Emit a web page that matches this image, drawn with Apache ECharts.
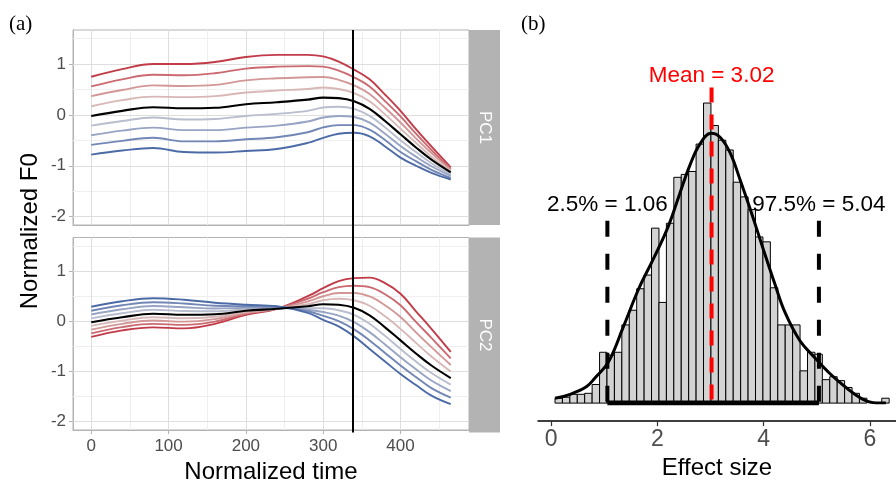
<!DOCTYPE html>
<html><head><meta charset="utf-8">
<script src="https://cdn.jsdelivr.net/npm/echarts@6/dist/echarts.min.js"></script>
<style>html,body{margin:0;padding:0;background:#fff}#c{width:896px;height:485px}</style>
</head><body><div id="c"></div>
<script>
// ---------- Panel (a): FPCA curves ----------
const timePoints = [0, 40, 80, 120, 160, 200, 240, 280, 300, 320, 340, 360, 380, 400, 420, 440, 465];
const meanCurve  = [-0.02, 0.08, 0.15, 0.13, 0.14, 0.21, 0.25, 0.30, 0.34, 0.33, 0.27, 0.12, -0.12, -0.38, -0.64, -0.88, -1.13];

const pc1Red4  = [0.75, 0.90, 1.00, 1.00, 1.04, 1.14, 1.18, 1.18, 1.15, 1.05, 0.89, 0.70, 0.40, 0.08, -0.28, -0.62, -1.03];
const pc1Red3  = [0.56, 0.70, 0.79, 0.78, 0.82, 0.91, 0.95, 0.96, 0.95, 0.87, 0.74, 0.56, 0.27, -0.03, -0.37, -0.69, -1.06];
const pc1Red2  = [0.37, 0.49, 0.58, 0.57, 0.59, 0.68, 0.72, 0.74, 0.745, 0.69, 0.58, 0.41, 0.14, -0.15, -0.46, -0.75, -1.08];
const pc1Red1  = [0.17, 0.29, 0.36, 0.35, 0.37, 0.44, 0.48, 0.51, 0.54, 0.51, 0.43, 0.27, 0.01, -0.27, -0.55, -0.82, -1.11];
const pc1Blue1 = [-0.21, -0.12, -0.05, -0.09, -0.08, -0.02, 0.02, 0.08, 0.145, 0.16, 0.12, -0.02, -0.245, -0.50, -0.73, -0.95, -1.17];
const pc1Blue2 = [-0.40, -0.31, -0.25, -0.30, -0.30, -0.25, -0.21, -0.13, -0.05, -0.02, -0.04, -0.15, -0.37, -0.61, -0.82, -1.01, -1.20];
const pc1Blue3 = [-0.59, -0.51, -0.45, -0.52, -0.52, -0.48, -0.44, -0.34, -0.245, -0.20, -0.20, -0.29, -0.495, -0.73, -0.91, -1.08, -1.24];
const pc1Blue4 = [-0.78, -0.70, -0.65, -0.73, -0.74, -0.71, -0.67, -0.55, -0.45, -0.37, -0.35, -0.42, -0.62, -0.84, -1.00, -1.14, -1.27];

const pc2Red4  = [-0.31, -0.18, -0.12, -0.14, -0.05, 0.13, 0.25, 0.50, 0.66, 0.80, 0.86, 0.87, 0.76, 0.55, 0.20, -0.15, -0.61];
const pc2Red3  = [-0.24, -0.115, -0.05, -0.07, -0.005, 0.15, 0.25, 0.45, 0.58, 0.68, 0.71, 0.68, 0.54, 0.32, -0.01, -0.33, -0.74];
const pc2Red2  = [-0.165, -0.05, 0.015, -0.005, 0.045, 0.17, 0.25, 0.395, 0.50, 0.565, 0.565, 0.495, 0.32, 0.085, -0.22, -0.515, -0.87];
const pc2Red1  = [-0.09, 0.015, 0.08, 0.06, 0.09, 0.19, 0.25, 0.34, 0.42, 0.45, 0.42, 0.31, 0.10, -0.15, -0.43, -0.70, -1.00];
const pc2Blue1 = [0.06, 0.16, 0.23, 0.205, 0.20, 0.24, 0.26, 0.26, 0.26, 0.22, 0.13, -0.05, -0.29, -0.55, -0.80, -1.03, -1.26];
const pc2Blue2 = [0.135, 0.24, 0.305, 0.28, 0.255, 0.27, 0.275, 0.23, 0.185, 0.115, -0.015, -0.215, -0.46, -0.715, -0.955, -1.18, -1.39];
const pc2Blue3 = [0.21, 0.32, 0.38, 0.355, 0.31, 0.30, 0.29, 0.20, 0.11, 0.005, -0.16, -0.38, -0.63, -0.88, -1.11, -1.33, -1.52];
const pc2Blue4 = [0.29, 0.40, 0.46, 0.43, 0.37, 0.33, 0.30, 0.17, 0.03, -0.10, -0.30, -0.55, -0.80, -1.05, -1.27, -1.48, -1.65];

const facetNames = ['PC1', 'PC2'];
const timeTicks = [0, 100, 200, 300, 400];
const timeMinor = [50, 150, 250, 350, 450];
const f0Ticks = [-2, -1, 0, 1];
const f0Minor = [-1.5, -0.5, 0.5, 1.5];
const peakTime = 337.6;

// ---------- Panel (b): bootstrap histogram ----------
const binStart = 0.075;
const binWidth = 0.1397;
const binCounts = [5, 6, 9, 9, 10, 19, 52, 49, 52, 80, 95, 117, 131, 179, 103, 184, 231, 234, 237, 265,
                   307, 284, 269, 259, 226, 211, 198, 170, 165, 118, 80, 80, 80, 33, 52, 50, 24, 27, 23, 16,
                   10, 5, 0, 0, 5];
const densityX = [0.075, 0.36, 0.67, 0.83, 1.08, 1.36, 1.65, 1.93, 2.2, 2.42, 2.61, 2.8, 3.01, 3.18, 3.37,
                  3.56, 3.75, 3.99, 4.21, 4.4, 4.68, 4.97, 5.25, 5.44, 5.69, 5.94, 6.2, 6.3];
const densityY = [5, 9, 17, 26, 42, 78, 117, 148, 180, 214, 243, 265, 276, 272, 256,
                  228, 198, 158, 122, 93, 64, 46, 30, 21, 10, 2, 0, 0];
const meanEffect = 3.02;
const ciLow = 1.06;
const ciHigh = 5.04;
const meanLineTop = 323;
const ciLineTop = 186.5;
const meanLabelY = 335;
const ciLabelY = 203;
const effectTicks = [0, 2, 4, 6];

// ---------- styles ----------
const FONT = 'Liberation Sans, Arial, Helvetica, sans-serif';
const SERIF = 'Liberation Serif, Times New Roman, serif';
const curveColors = ['#C13B48', '#CB6A71', '#D39797', '#D8B7B7', '#000000', '#B9BECF', '#98A4C3', '#7287B6', '#4C6BA6'];

const chart = echarts.init(document.getElementById('c'), null, {renderer: 'canvas'});

const L = 73, W = 396, T1 = 30, H = 195, T2 = 237.5;
const tMin = -23.6, tMax = 488.6, fMin = -2.165, fMax = 1.67;

function panelGridLines(ai) {
  const maj = {color: '#DEDEDE', width: 1, type: 'solid'};
  const min = {color: '#EFEFEF', width: 1, type: 'solid'};
  return {
    type: 'line', xAxisIndex: ai, yAxisIndex: ai, data: [], silent: true, z: 1,
    markLine: {
      silent: true, symbol: ['none', 'none'], label: {show: false}, z: 1, animation: false,
      data: [].concat(
        timeMinor.map(v => ({xAxis: v, lineStyle: min})),
        f0Minor.map(v => ({yAxis: v, lineStyle: min})),
        timeTicks.map(v => ({xAxis: v, lineStyle: maj})),
        f0Ticks.map(v => ({yAxis: v, lineStyle: maj}))
      )
    }
  };
}
function curve(ai, ys, color, width, z) {
  return {
    type: 'line', xAxisIndex: ai, yAxisIndex: ai, silent: true,
    data: timePoints.map((t, i) => [t, ys[i]]),
    smooth: 0.4, showSymbol: false, symbol: 'none', z: z,
    lineStyle: {color: color, width: width}
  };
}

const pc1Set = [pc1Red4, pc1Red3, pc1Red2, pc1Red1, meanCurve, pc1Blue1, pc1Blue2, pc1Blue3, pc1Blue4];
const pc2Set = [pc2Red4, pc2Red3, pc2Red2, pc2Red1, meanCurve, pc2Blue1, pc2Blue2, pc2Blue3, pc2Blue4];

const series = [panelGridLines(0), panelGridLines(1)];
[pc1Set, pc2Set].forEach((set, ai) => {
  set.forEach((ys, k) => {
    if (k !== 4) series.push(curve(ai, ys, curveColors[k], 1.9, 3));
  });
  series.push(curve(ai, set[4], curveColors[4], 2.1, 4));
});
series.push({
  type: 'line', xAxisIndex: 2, yAxisIndex: 2, data: [], silent: true,
  markLine: {silent: true, symbol: ['none', 'none'], label: {show: false}, z: 6, animation: false,
    data: [{xAxis: peakTime}], lineStyle: {color: '#000', width: 2, type: 'solid'}}
});

// histogram
series.push({
  type: 'custom', xAxisIndex: 5, yAxisIndex: 5, silent: true, z: 2,
  data: binCounts.map((c, i) => [binStart + i * binWidth, binStart + (i + 1) * binWidth, c]),
  encode: {x: [0, 1], y: 2},
  renderItem: function (params, api) {
    if (api.value(2) <= 0) return null;
    const p0 = api.coord([api.value(0), 0]);
    const p1 = api.coord([api.value(1), api.value(2)]);
    return {type: 'rect', shape: {x: p0[0], y: p1[1], width: p1[0] - p0[0], height: p0[1] - p1[1]},
      style: {fill: '#D3D3D3', stroke: '#000', lineWidth: 1}};
  }
});
series.push({
  type: 'line', xAxisIndex: 5, yAxisIndex: 5, silent: true, z: 4,
  data: densityX.map((x, i) => [x, densityY[i]]), smooth: 0.4, showSymbol: false, symbol: 'none',
  lineStyle: {color: '#000', width: 3}
});
[ciLow, ciHigh].forEach(v => series.push({
  type: 'line', xAxisIndex: 5, yAxisIndex: 5, silent: true, z: 5, showSymbol: false, symbol: 'none',
  data: [[v, ciLineTop], [v, 0]], lineStyle: {color: '#000', width: 4, type: [16, 17]}
}));
series.push({
  type: 'line', xAxisIndex: 5, yAxisIndex: 5, silent: true, z: 5, showSymbol: false, symbol: 'none',
  data: [[ciLow, 0], [ciHigh, 0]], lineStyle: {color: '#000', width: 5}
});
series.push({
  type: 'line', xAxisIndex: 5, yAxisIndex: 5, silent: true, z: 6, showSymbol: false, symbol: 'none',
  data: [[meanEffect, meanLineTop], [meanEffect, 0]], lineStyle: {color: '#FF0000', width: 4, type: [15, 12]}
});
const textPoints = [
  {value: [meanEffect, meanLabelY], text: 'Mean = ' + meanEffect.toFixed(2), color: '#FF0000'},
  {value: [ciLow, ciLabelY], text: '2.5% = ' + ciLow.toFixed(2), color: '#000000'},
  {value: [ciHigh, ciLabelY], text: '97.5% = ' + ciHigh.toFixed(2), color: '#000000'}
];
series.push({
  type: 'scatter', xAxisIndex: 5, yAxisIndex: 5, silent: true, z: 7, symbolSize: 1,
  itemStyle: {color: 'rgba(0,0,0,0)', opacity: 1},
  data: textPoints.map(p => ({value: p.value, label: {formatter: p.text, color: p.color, opacity: 1}})),
  label: {show: true, position: 'inside', fontSize: 22.5, fontFamily: FONT, opacity: 1}
});

const hiddenAxis = (gi, min, max) => ({gridIndex: gi, type: 'value', min: min, max: max, show: false});
const panelX = (gi, showLabels) => ({
  gridIndex: gi, type: 'value', min: tMin, max: tMax,
  axisLine: {show: true, onZero: false, lineStyle: {color: '#B3B3B3', width: 1}},
  axisTick: {show: showLabels, customValues: timeTicks, length: 4, lineStyle: {color: '#B3B3B3'}},
  axisLabel: {show: showLabels, customValues: timeTicks, color: '#4D4D4D', fontSize: 17, margin: 8, fontFamily: FONT},
  splitLine: {show: false},
  name: showLabels ? 'Normalized time' : '', nameLocation: 'middle', nameGap: 30,
  nameTextStyle: {fontSize: 24, color: '#000', fontFamily: FONT}
});
const panelY = gi => ({
  gridIndex: gi, type: 'value', min: fMin, max: fMax,
  axisLine: {show: true, onZero: false, lineStyle: {color: '#B3B3B3', width: 1}},
  axisTick: {show: true, customValues: f0Ticks, length: 4, lineStyle: {color: '#B3B3B3'}},
  axisLabel: {show: true, customValues: f0Ticks, color: '#4D4D4D', fontSize: 17, margin: 7, fontFamily: FONT},
  splitLine: {show: false}
});

chart.setOption({
  animation: false,
  backgroundColor: '#fff',
  textStyle: {fontFamily: FONT},
  grid: [
    {left: L, top: T1, width: W, height: H, show: true, borderColor: '#B3B3B3', borderWidth: 1, backgroundColor: '#fff'},
    {left: L, top: T2, width: W, height: H, show: true, borderColor: '#B3B3B3', borderWidth: 1, backgroundColor: '#fff'},
    {left: L, top: T1, width: W, height: T2 + H - T1},
    {left: L + W, top: T1, width: 31, height: H, show: true, backgroundColor: '#B3B3B3', borderWidth: 0},
    {left: L + W, top: T2, width: 31, height: H, show: true, backgroundColor: '#B3B3B3', borderWidth: 0},
    {left: 538, top: 40, width: 358, height: 371.5}
  ],
  xAxis: [
    panelX(0, false),
    panelX(1, true),
    hiddenAxis(2, tMin, tMax),
    hiddenAxis(3, 0, 1),
    hiddenAxis(4, 0, 1),
    {
      gridIndex: 5, type: 'value', min: -0.245, max: 6.49, offset: 18,
      axisLine: {show: true, onZero: false, lineStyle: {color: '#000', width: 1.5}},
      axisTick: {show: true, customValues: effectTicks, length: 5, lineStyle: {color: '#333', width: 1.2}},
      axisLabel: {show: true, customValues: effectTicks, color: '#4D4D4D', fontSize: 23, margin: 7, fontFamily: FONT},
      splitLine: {show: false},
      name: 'Effect size', nameLocation: 'middle', nameGap: 34,
      nameTextStyle: {fontSize: 24, color: '#000', fontFamily: FONT}
    }
  ],
  yAxis: [
    panelY(0),
    panelY(1),
    {gridIndex: 2, type: 'value', min: 0, max: 1, show: true,
     axisLine: {show: false}, axisTick: {show: false}, axisLabel: {show: false}, splitLine: {show: false},
     name: 'Normalized F0', nameLocation: 'middle', nameGap: 31, nameRotate: 90,
     nameTextStyle: {fontSize: 24, color: '#000', fontFamily: FONT}},
    hiddenAxis(3, 0, 1),
    hiddenAxis(4, 0, 1),
    hiddenAxis(5, 0, 371.5)
  ],
  graphic: [
    {type: 'text', left: 9, top: 14, style: {text: '(a)', fill: '#000', fontSize: 21, fontFamily: SERIF}},
    {type: 'text', left: 521, top: 14, style: {text: '(b)', fill: '#000', fontSize: 21, fontFamily: SERIF}},
    {type: 'text', x: L + W + 15.5, y: T1 + H / 2, rotation: -Math.PI / 2,
     style: {text: facetNames[0], fill: '#fff', fontSize: 17, fontFamily: FONT, align: 'center', verticalAlign: 'middle', textAlign: 'center', textVerticalAlign: 'middle'}},
    {type: 'text', x: L + W + 15.5, y: T2 + H / 2, rotation: -Math.PI / 2,
     style: {text: facetNames[1], fill: '#fff', fontSize: 17, fontFamily: FONT, align: 'center', verticalAlign: 'middle', textAlign: 'center', textVerticalAlign: 'middle'}}
  ],
  series: series
});
</script></body></html>
